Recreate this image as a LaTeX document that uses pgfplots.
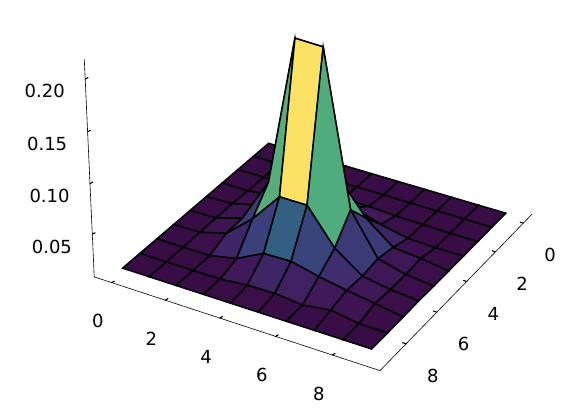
\documentclass[border=0pt]{standalone}
\usepackage{fontspec}
\setmainfont{DejaVu Sans}
\usepackage{pgfplots}
\pgfplotsset{compat=1.18}
\makeatletter
\def\myprojq#1#2#3{%
  \pgfmathparse{#1-4.5}\let\ma\pgfmathresult
  \pgfmathparse{#2-4.5}\let\mb\pgfmathresult
  \pgfmathparse{4.054*(#3-0.1128)}\let\mZ\pgfmathresult
  \pgfmathparse{10-(0.04798*\ma+0.0831*\mb+0.5*\mZ)}\let\md\pgfmathresult
  \pgfmathparse{318+2870*(0.09595*\ma-0.0554*\mb)/\md}\let\mpx\pgfmathresult
  \pgfmathparse{276.4+2898*(-0.0277*\ma-0.04798*\mb+0.866*\mZ)/\md}\let\mpy\pgfmathresult
  \global\pgf@x=\mpx pt\relax
  \global\pgf@y=\mpy pt\relax
}
\def\installproj{\global\let\pgfplotsqpointxyz\myprojq}
\makeatother
\pgfplotsset{colormap={refmap}{
  rgb255(120)=(56,12,68)
  rgb255(186)=(63,24,88)
  rgb255(260)=(62,46,110)
  rgb255(414)=(58,64,122)
  rgb255(523)=(50,95,130)
  rgb255(968)=(79,172,125)
  rgb255(1431)=(251,226,100)
  rgb255(2133)=(251,226,100)
}}
\begin{document}
\begin{tikzpicture}[x=1pt,y=1pt]
\useasboundingbox (0,0) rectangle (574,416);
\begin{axis}[
  at={(84pt,45pt)},anchor=south west,
  disabledatascaling,
  execute at begin axis={\installproj},
  x={(28pt,-9pt)},y={(-15pt,-14pt)},z={(0pt,1026pt)},
  xmin=-0.656,xmax=9.656,ymin=-0.656,ymax=9.656,zmin=0.0071,zmax=0.2185,
  xtick={0,2,4,6,8},ytick={0,2,4,6,8},ztick={0.05,0.10,0.15,0.20},
  grid=none,
  axis line style={draw=none},
  ticklabel pos=left,tick pos=right,
  xticklabel pos=left,yticklabel pos=left,zticklabel pos=left,
  tick align=center,major tick length=6pt,
  tick style={draw=none},
  ticklabel style={font=\fontsize{18}{20}\selectfont,/pgf/number format/assume math mode=true,anchor=center},
  xticklabel style={xshift=-11pt,yshift=-36pt},
  yticklabel style={xshift=23.5pt,yshift=-31pt},
  zticklabel style={xshift=-37.5pt,yshift=-10pt,/pgf/number format/fixed,/pgf/number format/fixed zerofill,/pgf/number format/precision=2},
  colormap name=refmap,
  point meta min=0.012,point meta max=0.2133,
]
\addplot3[surf,shader=faceted,faceted color=black,line width=1.5pt,z buffer=none,mesh/cols=10,point meta=z] table {
x y z
0 0 .012
1 0 .012
2 0 .012
3 0 .012
4 0 .012
5 0 .012
6 0 .012
7 0 .012
8 0 .012
9 0 .012
0 1 .012
1 1 .012
2 1 .012
3 1 .012
4 1 .012
5 1 .012
6 1 .012
7 1 .012
8 1 .012
9 1 .012
0 2 .012
1 2 .012
2 2 .012
3 2 .012
4 2 .0145
5 2 .0145
6 2 .013
7 2 .0125
8 2 .012
9 2 .012
0 3 .012
1 3 .012
2 3 .015
3 3 .019
4 3 .0275
5 3 .0275
6 3 .0187
7 3 .013
8 3 .012
9 3 .012
0 4 .012
1 4 .013
2 4 .0197
3 4 .040
4 4 .073
5 4 .073
6 4 .040
7 4 .0187
8 4 .016
9 4 .012
0 5 .012
1 5 .0125
2 5 .0207
3 5 .0656
4 5 .2133
5 5 .2124
6 5 .0626
7 5 .0221
8 5 .015
9 5 .012
0 6 .012
1 6 .0125
2 6 .0197
3 6 .0431
4 6 .0733
5 6 .0733
6 6 .039
7 6 .0197
8 6 .015
9 6 .0125
0 7 .012
1 7 .012
2 7 .012
3 7 .0176
4 7 .0314
5 7 .0321
6 7 .0256
7 7 .0207
8 7 .0165
9 7 .012
0 8 .012
1 8 .012
2 8 .012
3 8 .012
4 8 .0147
5 8 .0152
6 8 .0125
7 8 .0164
8 8 .012
9 8 .012
0 9 .012
1 9 .012
2 9 .012
3 9 .012
4 9 .012
5 9 .012
6 9 .012
7 9 .012
8 9 .012
9 9 .012
};
\draw[line width=1.2pt] (axis cs:-0.656,9.656,0.2185) -- (axis cs:-0.656,9.656,0.0071) -- (axis cs:9.656,9.656,0.0071) -- (axis cs:9.656,-0.656,0.0071);
\foreach \t in {0,2,4,6,8}{
  \edef\temp{\noexpand\draw[line width=1.1pt] (axis cs:\t+0.03,9.516,0.0071) -- (axis cs:\t-0.03,9.796,0.0071);
  \noexpand\draw[line width=1.1pt] (axis cs:9.516,\t,0.0071) -- (axis cs:9.796,\t,0.0071);}
  \temp
}
\foreach \t in {0.05,0.10,0.15,0.20}{
  \edef\temp{\noexpand\draw[line width=1.1pt] (axis cs:-0.626,9.516,\t) -- (axis cs:-0.686,9.796,\t);}
  \temp
}
\end{axis}
\end{tikzpicture}
\end{document}
